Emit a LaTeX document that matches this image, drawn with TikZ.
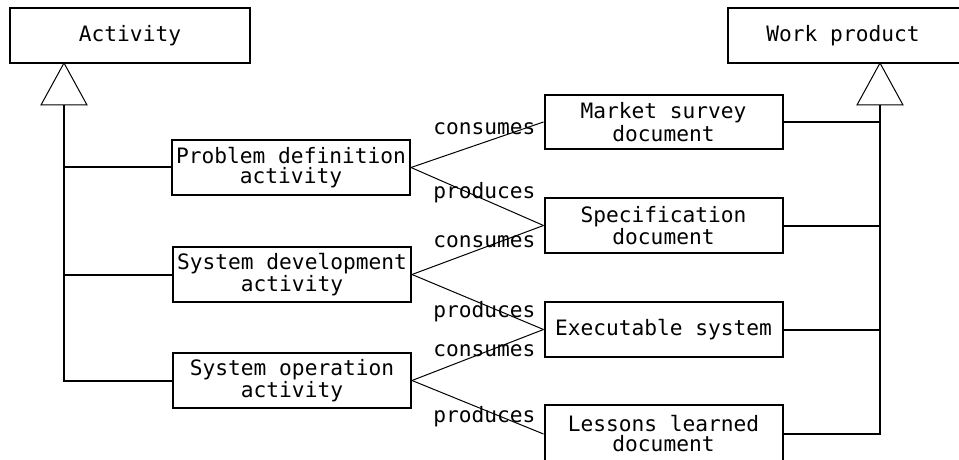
\documentclass[tikz,border=0pt]{standalone}
\usepackage{fontspec}
\newfontfamily\diagfont{DejaVu Sans Mono}
\usetikzlibrary{positioning}

\begin{document}
\begin{tikzpicture}[x=0.5pt,y=-0.5pt,
  font=\diagfont\fontsize{10.6}{10}\selectfont,
  classbox/.style={draw,line width=1pt,inner sep=0pt,align=center,
    minimum width=119pt,minimum height=27.5pt},
  relline/.style={line width=0.5pt},
  treeline/.style={line width=1pt},
  rellabel/.style={anchor=west,inner sep=0pt}]
\useasboundingbox (0,0) rectangle (959,460);

\node[classbox,minimum width=120pt] (act) at (130,35.5) {Activity};
\node[classbox,minimum width=120pt] (wp) at (848,35.5) {\hspace*{-5pt}Work product};

\node[classbox] (pd) at (291,167.5) {Problem definition\\activity};
\node[classbox] (sd) at (292,274.5) {System development\\activity};
\node[classbox] (so) at (292,380.5) {System operation\\activity};

\node[classbox,minimum height=27pt] (ms) at (663.5,122) {Market survey\\document};
\node[classbox] (spec) at (663.5,225.5) {Specification\\document};
\node[classbox] (exe) at (663.5,329.5) {Executable system};
\node[classbox,minimum height=29pt] (ll) at (663.5,434) {Lessons learned\\document};

% generalization triangles
\coordinate (acttip) at (64,63);
\coordinate (actbase) at (64,105);
\coordinate (wptip) at (880,63);
\coordinate (wpbase) at (880,105);
\draw[relline] (acttip) -- ++(-23,42) -- ++(46,0) -- cycle;
\draw[relline] (wptip) -- ++(-23,42) -- ++(46,0) -- cycle;

\draw[treeline] (actbase) -- (actbase |- so.west) -- (so.west);
\draw[treeline] (actbase |- pd.west) -- (pd.west);
\draw[treeline] (actbase |- sd.west) -- (sd.west);

\draw[treeline] (wpbase) -- (wpbase |- ll.east) -- (ll.east);
\draw[treeline] (ms.east) -- (ms.east -| wpbase);
\draw[treeline] (spec.east) -- (spec.east -| wpbase);
\draw[treeline] (exe.east) -- (exe.east -| wpbase);

\draw[relline] (pd.east) -- (ms.west);
\draw[relline] (pd.east) -- (spec.west);
\draw[relline] (sd.east) -- (spec.west);
\draw[relline] (sd.east) -- (exe.west);
\draw[relline] (so.east) -- (exe.west);
\draw[relline] (so.east) -- (ll.west);

\node[rellabel] (c1) at (433,129) {consumes};
\node[rellabel] (p1) at (433,193) {produces};
\node[rellabel] (c2) at (433,242) {consumes};
\node[rellabel] (p2) at (433,312) {produces};
\node[rellabel] (c3) at (433,351) {consumes};
\node[rellabel] (p3) at (433,417) {produces};
\end{tikzpicture}
\end{document}
